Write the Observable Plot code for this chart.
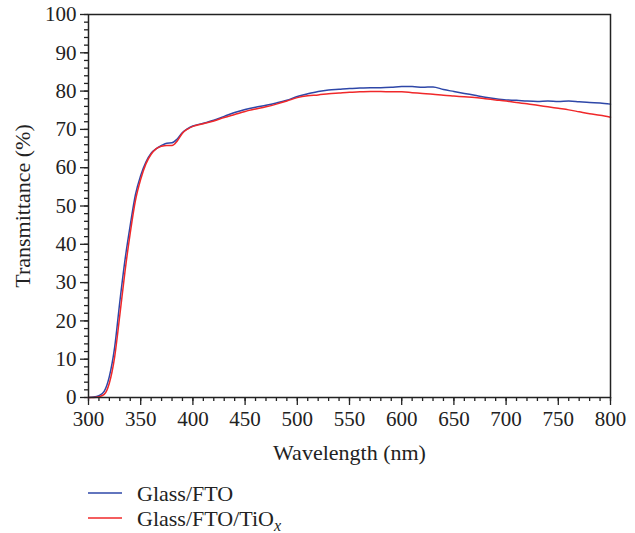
<!DOCTYPE html>
<html>
<head>
<meta charset="utf-8">
<script src="https://cdn.jsdelivr.net/npm/d3@7"></script>
<script src="https://cdn.jsdelivr.net/npm/@observablehq/plot@0.6"></script>
<style>
  body { margin: 0; background: #fff; font-family: "Liberation Serif", "DejaVu Serif", serif; }
  #wrap { position: relative; width: 635px; height: 533px; }
  #legend { position: absolute; left: 0; top: 470px; }
</style>
</head>
<body>
<div id="wrap">
  <div id="chart"></div>
  <svg id="legend" width="635" height="63"></svg>
</div>
<script>
const wavelength = [300,305,310,315,320,325,330,335,340,345,350,355,360,365,370,375,380,385,390,395,400,410,420,430,440,450,460,470,480,490,500,510,520,530,540,550,560,570,580,590,600,610,620,630,640,650,660,670,680,690,700,710,720,730,740,750,760,770,780,790,800];
const glassFTO = [0,0.1,0.5,1.6,5.5,13,25,36,45,53,58,61.5,63.8,65,65.8,66.4,66.5,67.5,69.2,70.2,70.9,71.6,72.4,73.4,74.4,75.2,75.8,76.3,76.9,77.6,78.6,79.3,79.9,80.3,80.5,80.7,80.8,80.9,80.9,81.0,81.2,81.2,81.0,81.1,80.4,79.9,79.4,78.9,78.4,78.0,77.7,77.6,77.4,77.3,77.4,77.3,77.4,77.2,77.0,76.9,76.6];
const glassFTOTiOx = [0,0,0.2,0.8,3.8,10.5,21.5,33,43,51.5,57,61,63.5,65,65.6,65.8,65.8,67,69,70.1,70.8,71.5,72.2,73.1,73.9,74.7,75.3,75.9,76.6,77.4,78.3,78.8,79.0,79.3,79.5,79.7,79.8,79.9,79.9,79.8,79.8,79.6,79.4,79.2,78.9,78.7,78.5,78.3,78.0,77.7,77.4,77.0,76.7,76.3,75.9,75.5,75.1,74.6,74.1,73.7,73.2];
const seriesNames = ["Glass/FTO", "Glass/FTO/TiOx"];
const seriesColors = ["#2e47a8", "#f0282a"];
const xMajor = [300,350,400,450,500,550,600,650,700,750,800];
const yMajor = [0,10,20,30,40,50,60,70,80,90,100];

const data = [];
wavelength.forEach((w, i) => {
  data.push({wl: w, t: glassFTO[i], s: seriesNames[0]});
  data.push({wl: w, t: glassFTOTiOx[i], s: seriesNames[1]});
});

const chart = Plot.plot({
  width: 635,
  height: 470,
  marginLeft: 88,
  marginRight: 25,
  marginTop: 14,
  marginBottom: 73,
  style: {fontFamily: "Liberation Serif, serif", fontSize: "21px", color: "#222", background: "#fff"},
  x: {domain: [300, 800]},
  y: {domain: [0, 100]},
  color: {domain: seriesNames, range: seriesColors},
  marks: [
    Plot.axisX(d3.range(300, 801, 10), {tickSize: 4, tickFormat: () => "", label: null, strokeWidth: 1.3}),
    Plot.axisY(d3.range(0, 101, 2), {tickSize: 4, tickFormat: () => "", label: null, strokeWidth: 1.3}),
    Plot.axisX(xMajor, {tickSize: 8, tickPadding: 6, label: "Wavelength (nm)", labelAnchor: "center", labelOffset: 62, labelArrow: false, strokeWidth: 1.3, fontSize: 21}),
    Plot.axisY(yMajor, {tickSize: 8, tickPadding: 4, label: "Transmittance (%)", labelAnchor: "center", labelOffset: 74, labelArrow: false, strokeWidth: 1.3, fontSize: 21}),
    Plot.line(data, {x: "wl", y: "t", stroke: "s", z: "s", strokeWidth: 1.5, curve: "monotone-x"}),
    Plot.frame({stroke: "#222", strokeWidth: 1.5})
  ]
});
d3.select(chart).selectAll("[aria-label='x-axis label'] text, [aria-label='y-axis label'] text").style("font-size", "22px");
document.getElementById("chart").appendChild(chart);

// legend
const leg = d3.select("#legend");
const rows = leg.selectAll("g").data(seriesNames).join("g")
  .attr("transform", (d, i) => `translate(0, ${23 + i * 25})`);
rows.append("line").attr("x1", 88).attr("x2", 122).attr("y1", 0).attr("y2", 0)
  .attr("stroke", (d, i) => seriesColors[i]).attr("stroke-width", 1.6);
const txt = rows.append("text").attr("x", 137).attr("y", 0).attr("dy", "0.35em")
  .attr("font-family", "Liberation Serif, serif").attr("font-size", 22).attr("fill", "#222");
txt.each(function(d) {
  const t = d3.select(this);
  if (d.endsWith("TiOx")) {
    t.append("tspan").text("Glass/FTO/TiO");
    t.append("tspan").text("x").attr("font-style", "italic").attr("font-size", 16).attr("dy", "0.3em");
  } else {
    t.text(d);
  }
});
</script>
</body>
</html>
